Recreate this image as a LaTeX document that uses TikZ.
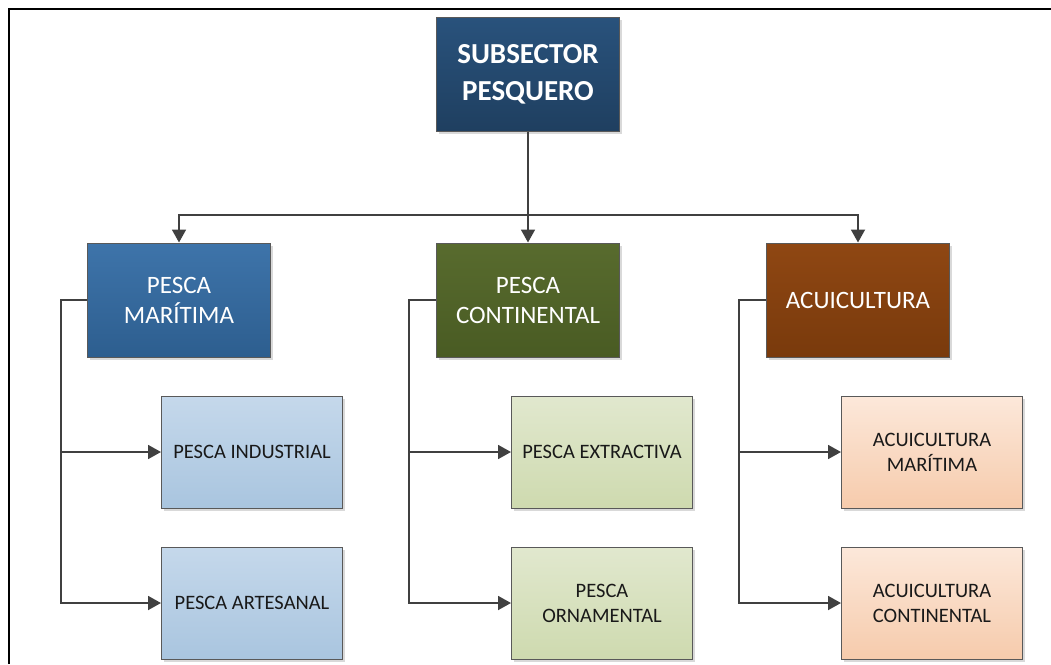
\documentclass[tikz,border=0pt]{standalone}
\usepackage{fontspec}
\setmainfont{Carlito}
\usetikzlibrary{arrows.meta}
\usetikzlibrary{shadows}

\definecolor{navytop}{HTML}{29527C}
\definecolor{navybot}{HTML}{1F3F60}
\definecolor{bluetop}{HTML}{3E74AA}
\definecolor{bluebot}{HTML}{2D5E8F}
\definecolor{olivetop}{HTML}{586B2E}
\definecolor{olivebot}{HTML}{495B23}
\definecolor{browntop}{HTML}{8F4713}
\definecolor{brownbot}{HTML}{793A0C}
\definecolor{lbluetop}{HTML}{C5D8EB}
\definecolor{lbluebot}{HTML}{A9C5DF}
\definecolor{lolivetop}{HTML}{E1E8CE}
\definecolor{lolivebot}{HTML}{CEDAAF}
\definecolor{peachtop}{HTML}{FCE8DA}
\definecolor{peachbot}{HTML}{F6CBAC}

\begin{document}
\begin{tikzpicture}[x=1pt,y=-1pt,>={Triangle[length=13pt,width=14pt]},
        line/.style={draw=black!75,line width=1.8pt},
        box/.style={draw=black!65,line width=1pt,align=center,inner sep=2pt,
            minimum width=183pt,minimum height=114pt,
            drop shadow={shadow xshift=2.5pt,shadow yshift=-2.5pt,opacity=0.3}},
        head/.style={box,top color=navytop,bottom color=navybot,text=white,
            font=\fontsize{29}{37}\selectfont\bfseries},
        branch/.style={box,text=white,font=\fontsize{25}{30}\selectfont},
        leaf/.style={box,minimum width=181pt,minimum height=112pt,text=black!90,
            font=\fontsize{20.5}{25}\selectfont}]
        \useasboundingbox (0,0) rectangle (1051,664);
        \draw[line width=2pt] (9,664) -- (9,9) -- (1051,9);

        \node[head] (top) at (528,74) {SUBSECTOR\\PESQUERO};
        \node[branch,top color=bluetop,bottom color=bluebot] (mar) at (179,300) {PESCA\\MARÍTIMA};
        \node[branch,top color=olivetop,bottom color=olivebot] (con) at (528,300) {PESCA\\CONTINENTAL};
        \node[branch,top color=browntop,bottom color=brownbot] (acu) at (858,300) {ACUICULTURA};

        \node[leaf,top color=lbluetop,bottom color=lbluebot] (ind) at (252,452) {PESCA INDUSTRIAL};
        \node[leaf,top color=lbluetop,bottom color=lbluebot] (art) at (252,603) {PESCA ARTESANAL};
        \node[leaf,top color=lolivetop,bottom color=lolivebot] (ext) at (602,452) {PESCA EXTRACTIVA};
        \node[leaf,top color=lolivetop,bottom color=lolivebot] (orn) at (602,603) {PESCA\\ORNAMENTAL};
        \node[leaf,top color=peachtop,bottom color=peachbot] (acm) at (932,452) {ACUICULTURA\\MARÍTIMA};
        \node[leaf,top color=peachtop,bottom color=peachbot] (acc) at (932,603) {ACUICULTURA\\CONTINENTAL};

        \coordinate (split) at (528,215);
        \draw[line,->] (top) -- (con);
        \draw[line,->] (split) -| (mar.north);
        \draw[line,->] (split) -| (acu.north);

        \draw[line,->] (mar.west) -- ++(-26,0) |- (ind);
        \draw[line,->] (mar.west) -- ++(-26,0) |- (art);
        \draw[line,->] (con.west) -- ++(-27,0) |- (ext);
        \draw[line,->] (con.west) -- ++(-27,0) |- (orn);
        \draw[line,->] (acu.west) -- ++(-27,0) |- (acm);
        \draw[line,->] (acu.west) -- ++(-27,0) |- (acc);
    \end{tikzpicture}
\end{document}
